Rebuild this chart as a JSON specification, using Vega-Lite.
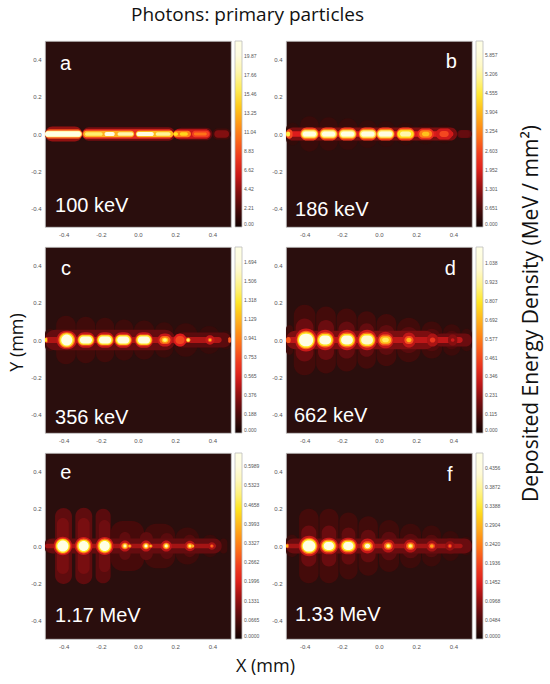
{
"$schema": "https://vega.github.io/schema/vega-lite/v6.json",
"padding": {"left": 7, "top": 5, "right": 2, "bottom": 2},
"background": "#ffffff",
"title": {"text": "Photons: primary particles", "anchor": "middle", "frame": "bounds", "offset": 16, "fontSize": 19, "fontWeight": "normal", "font": "Open Sans", "color": "#111111", "dx": -27},
"datasets": {
"cells": [
{"p":"a","x1":-0.5,"x2":-0.3,"y1":-0.04,"y2":0.04,"v":4.5},
{"p":"a","x1":-0.3,"x2":0.2,"y1":-0.036,"y2":0.036,"v":3.6},
{"p":"a","x1":0.2,"x2":0.4,"y1":-0.034,"y2":0.034,"v":2.8},
{"p":"a","x1":0.4,"x2":0.5,"y1":-0.03,"y2":0.03,"v":1.8},
{"p":"a","x1":-0.5,"x2":-0.3,"y1":-0.026,"y2":0.026,"v":9.5},
{"p":"a","x1":-0.3,"x2":0.19,"y1":-0.026,"y2":0.026,"v":7.5},
{"p":"a","x1":0.19,"x2":0.39,"y1":-0.026,"y2":0.026,"v":6},
{"p":"a","x1":0.41,"x2":0.49,"y1":-0.02,"y2":0.02,"v":4},
{"p":"a","x1":-0.5,"x2":-0.302,"y1":-0.018,"y2":0.018,"v":17},
{"p":"a","x1":-0.295,"x2":-0.02,"y1":-0.018,"y2":0.018,"v":13},
{"p":"a","x1":-0.012,"x2":0.19,"y1":-0.018,"y2":0.018,"v":13.5},
{"p":"a","x1":0.19,"x2":0.285,"y1":-0.018,"y2":0.018,"v":11},
{"p":"a","x1":0.29,"x2":0.385,"y1":-0.018,"y2":0.018,"v":8.5},
{"p":"a","x1":-0.5,"x2":-0.308,"y1":-0.014,"y2":0.014,"v":21.5},
{"p":"a","x1":-0.285,"x2":-0.19,"y1":-0.01,"y2":0.01,"v":16.5},
{"p":"a","x1":-0.18,"x2":-0.125,"y1":-0.011,"y2":0.011,"v":19.5},
{"p":"a","x1":-0.11,"x2":-0.025,"y1":-0.01,"y2":0.01,"v":18},
{"p":"a","x1":-0.008,"x2":0.085,"y1":-0.011,"y2":0.011,"v":20},
{"p":"a","x1":0.095,"x2":0.175,"y1":-0.01,"y2":0.01,"v":17.5},
{"p":"a","x1":0.19,"x2":0.215,"y1":-0.009,"y2":0.009,"v":15},
{"p":"a","x1":0.225,"x2":0.268,"y1":-0.009,"y2":0.009,"v":14.5},
{"p":"a","x1":0.3,"x2":0.37,"y1":-0.008,"y2":0.008,"v":10.5},

{"p":"b","x1":-0.5,"x2":-0.43,"y1":-0.06,"y2":0.06,"v":0.35},
{"p":"b","x1":-0.424,"x2":-0.324,"y1":-0.095,"y2":0.095,"v":0.42},
{"p":"b","x1":-0.321,"x2":-0.221,"y1":-0.09,"y2":0.09,"v":0.42},
{"p":"b","x1":-0.219,"x2":-0.115,"y1":-0.085,"y2":0.085,"v":0.4},
{"p":"b","x1":-0.112,"x2":-0.01,"y1":-0.075,"y2":0.075,"v":0.38},
{"p":"b","x1":-0.008,"x2":0.086,"y1":-0.07,"y2":0.07,"v":0.36},
{"p":"b","x1":0.09,"x2":0.196,"y1":-0.06,"y2":0.06,"v":0.34},
{"p":"b","x1":0.2,"x2":0.3,"y1":-0.055,"y2":0.055,"v":0.32},
{"p":"b","x1":0.305,"x2":0.4,"y1":-0.05,"y2":0.05,"v":0.32},
{"p":"b","x1":-0.5,"x2":0.42,"y1":-0.035,"y2":0.035,"v":1.1},
{"p":"b","x1":0.42,"x2":0.5,"y1":-0.022,"y2":0.022,"v":0.8},
{"p":"b","x1":-0.5,"x2":0.4,"y1":-0.015,"y2":0.015,"v":1.9},
{"p":"b","x1":-0.5,"x2":-0.465,"y1":-0.025,"y2":0.025,"v":2.6},
{"p":"b","x1":-0.424,"x2":-0.324,"y1":-0.035,"y2":0.035,"v":2.4},
{"p":"b","x1":-0.321,"x2":-0.221,"y1":-0.035,"y2":0.035,"v":2.4},
{"p":"b","x1":-0.219,"x2":-0.119,"y1":-0.035,"y2":0.035,"v":2.4},
{"p":"b","x1":-0.11,"x2":-0.01,"y1":-0.035,"y2":0.035,"v":2.4},
{"p":"b","x1":-0.015,"x2":0.085,"y1":-0.035,"y2":0.035,"v":2.4},
{"p":"b","x1":0.093,"x2":0.193,"y1":-0.035,"y2":0.035,"v":2.4},
{"p":"b","x1":0.206,"x2":0.296,"y1":-0.03,"y2":0.03,"v":2.2},
{"p":"b","x1":0.305,"x2":0.395,"y1":-0.03,"y2":0.03,"v":1.8},
{"p":"b","x1":0.428,"x2":0.488,"y1":-0.02,"y2":0.02,"v":0.9},
{"p":"b","x1":-0.421,"x2":-0.327,"y1":-0.026,"y2":0.026,"v":3.5},
{"p":"b","x1":-0.318,"x2":-0.224,"y1":-0.026,"y2":0.026,"v":3.5},
{"p":"b","x1":-0.216,"x2":-0.122,"y1":-0.026,"y2":0.026,"v":3.5},
{"p":"b","x1":-0.107,"x2":-0.013,"y1":-0.026,"y2":0.026,"v":3.5},
{"p":"b","x1":-0.012,"x2":0.082,"y1":-0.026,"y2":0.026,"v":3.5},
{"p":"b","x1":0.096,"x2":0.19,"y1":-0.026,"y2":0.026,"v":3.5},
{"p":"b","x1":0.216,"x2":0.286,"y1":-0.02,"y2":0.02,"v":3.2},
{"p":"b","x1":0.325,"x2":0.375,"y1":-0.016,"y2":0.016,"v":2.6},
{"p":"b","x1":-0.417,"x2":-0.331,"y1":-0.02,"y2":0.02,"v":4.8},
{"p":"b","x1":-0.314,"x2":-0.228,"y1":-0.02,"y2":0.02,"v":4.8},
{"p":"b","x1":-0.212,"x2":-0.126,"y1":-0.02,"y2":0.02,"v":4.8},
{"p":"b","x1":-0.103,"x2":-0.017,"y1":-0.02,"y2":0.02,"v":4.8},
{"p":"b","x1":-0.008,"x2":0.078,"y1":-0.02,"y2":0.02,"v":4.8},
{"p":"b","x1":0.1,"x2":0.186,"y1":-0.02,"y2":0.02,"v":4.4},
{"p":"b","x1":0.231,"x2":0.271,"y1":-0.012,"y2":0.012,"v":4},
{"p":"b","x1":-0.5,"x2":-0.478,"y1":-0.014,"y2":0.014,"v":4.6},
{"p":"b","x1":-0.41,"x2":-0.338,"y1":-0.014,"y2":0.014,"v":6.3},
{"p":"b","x1":-0.307,"x2":-0.235,"y1":-0.014,"y2":0.014,"v":6.1},
{"p":"b","x1":-0.205,"x2":-0.133,"y1":-0.014,"y2":0.014,"v":6.3},
{"p":"b","x1":-0.096,"x2":-0.024,"y1":-0.014,"y2":0.014,"v":6},
{"p":"b","x1":-0.001,"x2":0.071,"y1":-0.014,"y2":0.014,"v":5.8},
{"p":"b","x1":0.113,"x2":0.173,"y1":-0.014,"y2":0.014,"v":5.3},

{"p":"c","x1":-0.5,"x2":-0.445,"y1":-0.06,"y2":0.06,"v":0.13},
{"p":"c","x1":-0.44,"x2":-0.335,"y1":-0.13,"y2":0.13,"v":0.15},
{"p":"c","x1":-0.332,"x2":-0.23,"y1":-0.125,"y2":0.125,"v":0.15},
{"p":"c","x1":-0.227,"x2":-0.128,"y1":-0.12,"y2":0.12,"v":0.15},
{"p":"c","x1":-0.125,"x2":-0.025,"y1":-0.11,"y2":0.11,"v":0.14},
{"p":"c","x1":-0.022,"x2":0.088,"y1":-0.105,"y2":0.105,"v":0.14},
{"p":"c","x1":0.091,"x2":0.19,"y1":-0.095,"y2":0.095,"v":0.13},
{"p":"c","x1":0.193,"x2":0.32,"y1":-0.09,"y2":0.09,"v":0.13},
{"p":"c","x1":0.325,"x2":0.44,"y1":-0.075,"y2":0.075,"v":0.12},
{"p":"c","x1":0.445,"x2":0.5,"y1":-0.05,"y2":0.05,"v":0.11},
{"p":"c","x1":-0.5,"x2":0.2,"y1":-0.055,"y2":0.055,"v":0.26},
{"p":"c","x1":0.2,"x2":0.5,"y1":-0.04,"y2":0.04,"v":0.23},
{"p":"c","x1":-0.5,"x2":0.45,"y1":-0.016,"y2":0.016,"v":0.45},
{"p":"c","x1":-0.438,"x2":-0.328,"y1":-0.05,"y2":0.05,"v":0.5},
{"p":"c","x1":-0.33,"x2":-0.23,"y1":-0.042,"y2":0.042,"v":0.5},
{"p":"c","x1":-0.227,"x2":-0.127,"y1":-0.042,"y2":0.042,"v":0.5},
{"p":"c","x1":-0.129,"x2":-0.029,"y1":-0.042,"y2":0.042,"v":0.5},
{"p":"c","x1":-0.018,"x2":0.082,"y1":-0.042,"y2":0.042,"v":0.5},
{"p":"c","x1":0.105,"x2":0.185,"y1":-0.035,"y2":0.035,"v":0.5},
{"p":"c","x1":0.191,"x2":0.261,"y1":-0.035,"y2":0.035,"v":0.55},
{"p":"c","x1":0.362,"x2":0.412,"y1":-0.025,"y2":0.025,"v":0.5},
{"p":"c","x1":-0.5,"x2":-0.485,"y1":-0.015,"y2":0.015,"v":0.8},
{"p":"c","x1":0.485,"x2":0.5,"y1":-0.015,"y2":0.015,"v":0.8},
{"p":"c","x1":-0.428,"x2":-0.338,"y1":-0.042,"y2":0.042,"v":0.9},
{"p":"c","x1":-0.325,"x2":-0.235,"y1":-0.03,"y2":0.03,"v":0.9},
{"p":"c","x1":-0.222,"x2":-0.132,"y1":-0.03,"y2":0.03,"v":0.9},
{"p":"c","x1":-0.124,"x2":-0.034,"y1":-0.03,"y2":0.03,"v":0.9},
{"p":"c","x1":-0.013,"x2":0.077,"y1":-0.03,"y2":0.03,"v":0.9},
{"p":"c","x1":0.115,"x2":0.175,"y1":-0.022,"y2":0.022,"v":0.85},
{"p":"c","x1":0.201,"x2":0.251,"y1":-0.022,"y2":0.022,"v":0.75},
{"p":"c","x1":0.375,"x2":0.399,"y1":-0.012,"y2":0.012,"v":0.8},
{"p":"c","x1":-0.421,"x2":-0.345,"y1":-0.036,"y2":0.036,"v":1.3},
{"p":"c","x1":-0.32,"x2":-0.24,"y1":-0.025,"y2":0.025,"v":1.3},
{"p":"c","x1":-0.217,"x2":-0.137,"y1":-0.025,"y2":0.025,"v":1.3},
{"p":"c","x1":-0.119,"x2":-0.039,"y1":-0.025,"y2":0.025,"v":1.3},
{"p":"c","x1":-0.008,"x2":0.072,"y1":-0.025,"y2":0.025,"v":1.3},
{"p":"c","x1":0.127,"x2":0.163,"y1":-0.014,"y2":0.014,"v":1.2},
{"p":"c","x1":0.258,"x2":0.282,"y1":-0.012,"y2":0.012,"v":1.1},
{"p":"c","x1":-0.5,"x2":-0.49,"y1":-0.011,"y2":0.011,"v":1.3},
{"p":"c","x1":-0.413,"x2":-0.353,"y1":-0.03,"y2":0.03,"v":1.84},
{"p":"c","x1":-0.313,"x2":-0.247,"y1":-0.019,"y2":0.019,"v":1.75},
{"p":"c","x1":-0.21,"x2":-0.144,"y1":-0.019,"y2":0.019,"v":1.75},
{"p":"c","x1":-0.112,"x2":-0.046,"y1":-0.019,"y2":0.019,"v":1.7},
{"p":"c","x1":-0.001,"x2":0.065,"y1":-0.019,"y2":0.019,"v":1.68},
{"p":"c","x1":0.135,"x2":0.155,"y1":-0.009,"y2":0.009,"v":1.45},
{"p":"c","x1":0.263,"x2":0.277,"y1":-0.007,"y2":0.007,"v":1.4},
{"p":"c","x1":0.381,"x2":0.393,"y1":-0.006,"y2":0.006,"v":1.2},

{"p":"d","x1":-0.5,"x2":-0.462,"y1":-0.08,"y2":0.08,"v":0.09},
{"p":"d","x1":-0.458,"x2":-0.342,"y1":-0.19,"y2":0.19,"v":0.1},
{"p":"d","x1":-0.338,"x2":-0.232,"y1":-0.18,"y2":0.18,"v":0.1},
{"p":"d","x1":-0.228,"x2":-0.12,"y1":-0.17,"y2":0.17,"v":0.1},
{"p":"d","x1":-0.116,"x2":-0.017,"y1":-0.155,"y2":0.155,"v":0.1},
{"p":"d","x1":-0.013,"x2":0.093,"y1":-0.14,"y2":0.14,"v":0.1},
{"p":"d","x1":0.097,"x2":0.223,"y1":-0.12,"y2":0.12,"v":0.095},
{"p":"d","x1":0.227,"x2":0.34,"y1":-0.1,"y2":0.1,"v":0.09},
{"p":"d","x1":0.344,"x2":0.438,"y1":-0.085,"y2":0.085,"v":0.085},
{"p":"d","x1":0.442,"x2":0.5,"y1":-0.06,"y2":0.06,"v":0.08},
{"p":"d","x1":-0.448,"x2":-0.352,"y1":-0.115,"y2":0.115,"v":0.17},
{"p":"d","x1":-0.328,"x2":-0.242,"y1":-0.108,"y2":0.108,"v":0.17},
{"p":"d","x1":-0.218,"x2":-0.13,"y1":-0.1,"y2":0.1,"v":0.16},
{"p":"d","x1":-0.106,"x2":-0.027,"y1":-0.09,"y2":0.09,"v":0.16},
{"p":"d","x1":-0.003,"x2":0.083,"y1":-0.08,"y2":0.08,"v":0.15},
{"p":"d","x1":0.107,"x2":0.213,"y1":-0.07,"y2":0.07,"v":0.14},
{"p":"d","x1":0.237,"x2":0.33,"y1":-0.06,"y2":0.06,"v":0.13},
{"p":"d","x1":0.354,"x2":0.428,"y1":-0.05,"y2":0.05,"v":0.12},
{"p":"d","x1":-0.5,"x2":0.3,"y1":-0.05,"y2":0.05,"v":0.2},
{"p":"d","x1":0.3,"x2":0.5,"y1":-0.035,"y2":0.035,"v":0.17},
{"p":"d","x1":-0.5,"x2":0.45,"y1":-0.016,"y2":0.016,"v":0.3},
{"p":"d","x1":-0.45,"x2":-0.334,"y1":-0.062,"y2":0.062,"v":0.32},
{"p":"d","x1":-0.341,"x2":-0.237,"y1":-0.055,"y2":0.055,"v":0.32},
{"p":"d","x1":-0.224,"x2":-0.12,"y1":-0.055,"y2":0.055,"v":0.32},
{"p":"d","x1":-0.116,"x2":-0.012,"y1":-0.055,"y2":0.055,"v":0.32},
{"p":"d","x1":-0.01,"x2":0.08,"y1":-0.045,"y2":0.045,"v":0.3},
{"p":"d","x1":0.126,"x2":0.196,"y1":-0.04,"y2":0.04,"v":0.3},
{"p":"d","x1":0.258,"x2":0.318,"y1":-0.035,"y2":0.035,"v":0.27},
{"p":"d","x1":0.371,"x2":0.421,"y1":-0.03,"y2":0.03,"v":0.22},
{"p":"d","x1":-0.442,"x2":-0.342,"y1":-0.05,"y2":0.05,"v":0.55},
{"p":"d","x1":-0.334,"x2":-0.244,"y1":-0.04,"y2":0.04,"v":0.55},
{"p":"d","x1":-0.217,"x2":-0.127,"y1":-0.04,"y2":0.04,"v":0.55},
{"p":"d","x1":-0.109,"x2":-0.019,"y1":-0.04,"y2":0.04,"v":0.55},
{"p":"d","x1":-0.003,"x2":0.073,"y1":-0.03,"y2":0.03,"v":0.5},
{"p":"d","x1":0.136,"x2":0.186,"y1":-0.022,"y2":0.022,"v":0.48},
{"p":"d","x1":0.273,"x2":0.303,"y1":-0.014,"y2":0.014,"v":0.42},
{"p":"d","x1":0.386,"x2":0.406,"y1":-0.01,"y2":0.01,"v":0.32},
{"p":"d","x1":-0.5,"x2":-0.475,"y1":-0.016,"y2":0.016,"v":0.5},
{"p":"d","x1":-0.437,"x2":-0.347,"y1":-0.042,"y2":0.042,"v":0.8},
{"p":"d","x1":-0.329,"x2":-0.249,"y1":-0.032,"y2":0.032,"v":0.78},
{"p":"d","x1":-0.212,"x2":-0.132,"y1":-0.032,"y2":0.032,"v":0.78},
{"p":"d","x1":-0.104,"x2":-0.024,"y1":-0.032,"y2":0.032,"v":0.78},
{"p":"d","x1":0.005,"x2":0.065,"y1":-0.02,"y2":0.02,"v":0.72},
{"p":"d","x1":0.147,"x2":0.175,"y1":-0.012,"y2":0.012,"v":0.7},
{"p":"d","x1":-0.43,"x2":-0.354,"y1":-0.034,"y2":0.034,"v":1.14},
{"p":"d","x1":-0.321,"x2":-0.257,"y1":-0.024,"y2":0.024,"v":1.08},
{"p":"d","x1":-0.204,"x2":-0.14,"y1":-0.024,"y2":0.024,"v":1.05},
{"p":"d","x1":-0.096,"x2":-0.032,"y1":-0.024,"y2":0.024,"v":1},
{"p":"d","x1":0.017,"x2":0.053,"y1":-0.012,"y2":0.012,"v":0.85},

{"p":"e","x1":-0.5,"x2":-0.45,"y1":-0.04,"y2":0.04,"v":0.05},
{"p":"e","x1":-0.446,"x2":-0.355,"y1":-0.204,"y2":0.204,"v":0.085},
{"p":"e","x1":-0.337,"x2":-0.246,"y1":-0.205,"y2":0.205,"v":0.085},
{"p":"e","x1":-0.228,"x2":-0.147,"y1":-0.2,"y2":0.2,"v":0.08},
{"p":"e","x1":-0.147,"x2":0.033,"y1":-0.135,"y2":0.135,"v":0.06},
{"p":"e","x1":0.033,"x2":0.2,"y1":-0.12,"y2":0.12,"v":0.055},
{"p":"e","x1":0.2,"x2":0.33,"y1":-0.1,"y2":0.1,"v":0.05},
{"p":"e","x1":0.345,"x2":0.43,"y1":-0.06,"y2":0.06,"v":0.045},
{"p":"e","x1":0.44,"x2":0.48,"y1":-0.04,"y2":0.04,"v":0.05},
{"p":"e","x1":-0.436,"x2":-0.372,"y1":-0.15,"y2":0.15,"v":0.11},
{"p":"e","x1":-0.324,"x2":-0.26,"y1":-0.15,"y2":0.15,"v":0.11},
{"p":"e","x1":-0.21,"x2":-0.15,"y1":-0.14,"y2":0.14,"v":0.1},
{"p":"e","x1":-0.1,"x2":-0.04,"y1":-0.075,"y2":0.075,"v":0.085},
{"p":"e","x1":0.01,"x2":0.08,"y1":-0.075,"y2":0.075,"v":0.085},
{"p":"e","x1":0.12,"x2":0.19,"y1":-0.07,"y2":0.07,"v":0.08},
{"p":"e","x1":0.245,"x2":0.31,"y1":-0.06,"y2":0.06,"v":0.075},
{"p":"e","x1":-0.5,"x2":0.45,"y1":-0.04,"y2":0.04,"v":0.09},
{"p":"e","x1":-0.5,"x2":0.42,"y1":-0.012,"y2":0.012,"v":0.15},
{"p":"e","x1":-0.454,"x2":-0.354,"y1":-0.05,"y2":0.05,"v":0.18},
{"p":"e","x1":-0.34,"x2":-0.244,"y1":-0.048,"y2":0.048,"v":0.18},
{"p":"e","x1":-0.227,"x2":-0.131,"y1":-0.048,"y2":0.048,"v":0.18},
{"p":"e","x1":-0.1,"x2":-0.04,"y1":-0.03,"y2":0.03,"v":0.17},
{"p":"e","x1":0.013,"x2":0.073,"y1":-0.03,"y2":0.03,"v":0.17},
{"p":"e","x1":0.122,"x2":0.182,"y1":-0.03,"y2":0.03,"v":0.17},
{"p":"e","x1":0.251,"x2":0.307,"y1":-0.028,"y2":0.028,"v":0.16},
{"p":"e","x1":0.377,"x2":0.417,"y1":-0.02,"y2":0.02,"v":0.15},
{"p":"e","x1":-0.446,"x2":-0.362,"y1":-0.042,"y2":0.042,"v":0.3},
{"p":"e","x1":-0.332,"x2":-0.252,"y1":-0.04,"y2":0.04,"v":0.3},
{"p":"e","x1":-0.219,"x2":-0.139,"y1":-0.04,"y2":0.04,"v":0.3},
{"p":"e","x1":-0.09,"x2":-0.05,"y1":-0.018,"y2":0.018,"v":0.3},
{"p":"e","x1":-0.055,"x2":-0.035,"y1":-0.01,"y2":0.01,"v":0.3},
{"p":"e","x1":0.023,"x2":0.063,"y1":-0.018,"y2":0.018,"v":0.3},
{"p":"e","x1":0.058,"x2":0.078,"y1":-0.01,"y2":0.01,"v":0.3},
{"p":"e","x1":0.132,"x2":0.172,"y1":-0.018,"y2":0.018,"v":0.3},
{"p":"e","x1":0.261,"x2":0.297,"y1":-0.016,"y2":0.016,"v":0.28},
{"p":"e","x1":0.387,"x2":0.407,"y1":-0.01,"y2":0.01,"v":0.25},
{"p":"e","x1":-0.441,"x2":-0.367,"y1":-0.037,"y2":0.037,"v":0.45},
{"p":"e","x1":-0.326,"x2":-0.258,"y1":-0.034,"y2":0.034,"v":0.45},
{"p":"e","x1":-0.213,"x2":-0.145,"y1":-0.034,"y2":0.034,"v":0.45},
{"p":"e","x1":-0.083,"x2":-0.057,"y1":-0.013,"y2":0.013,"v":0.42},
{"p":"e","x1":-0.051,"x2":-0.039,"y1":-0.006,"y2":0.006,"v":0.4},
{"p":"e","x1":0.03,"x2":0.056,"y1":-0.013,"y2":0.013,"v":0.42},
{"p":"e","x1":0.062,"x2":0.074,"y1":-0.006,"y2":0.006,"v":0.4},
{"p":"e","x1":0.139,"x2":0.165,"y1":-0.013,"y2":0.013,"v":0.42},
{"p":"e","x1":0.268,"x2":0.29,"y1":-0.011,"y2":0.011,"v":0.4},
{"p":"e","x1":0.288,"x2":0.302,"y1":-0.008,"y2":0.008,"v":0.38},
{"p":"e","x1":0.392,"x2":0.402,"y1":-0.005,"y2":0.005,"v":0.32},
{"p":"e","x1":-0.434,"x2":-0.374,"y1":-0.03,"y2":0.03,"v":0.64},
{"p":"e","x1":-0.319,"x2":-0.265,"y1":-0.027,"y2":0.027,"v":0.63},
{"p":"e","x1":-0.206,"x2":-0.152,"y1":-0.027,"y2":0.027,"v":0.63},
{"p":"e","x1":-0.078,"x2":-0.062,"y1":-0.008,"y2":0.008,"v":0.55},
{"p":"e","x1":0.035,"x2":0.051,"y1":-0.008,"y2":0.008,"v":0.58},
{"p":"e","x1":0.144,"x2":0.16,"y1":-0.008,"y2":0.008,"v":0.55},
{"p":"e","x1":0.273,"x2":0.285,"y1":-0.006,"y2":0.006,"v":0.5},

{"p":"f","x1":-0.5,"x2":-0.435,"y1":-0.06,"y2":0.06,"v":0.035},
{"p":"f","x1":-0.43,"x2":-0.325,"y1":-0.2,"y2":0.2,"v":0.042},
{"p":"f","x1":-0.32,"x2":-0.218,"y1":-0.2,"y2":0.2,"v":0.042},
{"p":"f","x1":-0.213,"x2":-0.115,"y1":-0.18,"y2":0.18,"v":0.04},
{"p":"f","x1":-0.11,"x2":-0.006,"y1":-0.16,"y2":0.16,"v":0.04},
{"p":"f","x1":0,"x2":0.108,"y1":-0.14,"y2":0.14,"v":0.038},
{"p":"f","x1":0.113,"x2":0.226,"y1":-0.12,"y2":0.12,"v":0.036},
{"p":"f","x1":0.231,"x2":0.333,"y1":-0.11,"y2":0.11,"v":0.035},
{"p":"f","x1":0.338,"x2":0.43,"y1":-0.08,"y2":0.08,"v":0.033},
{"p":"f","x1":0.435,"x2":0.5,"y1":-0.05,"y2":0.05,"v":0.03},
{"p":"f","x1":-0.418,"x2":-0.337,"y1":-0.11,"y2":0.11,"v":0.07},
{"p":"f","x1":-0.308,"x2":-0.23,"y1":-0.11,"y2":0.11,"v":0.07},
{"p":"f","x1":-0.201,"x2":-0.127,"y1":-0.1,"y2":0.1,"v":0.065},
{"p":"f","x1":-0.098,"x2":-0.018,"y1":-0.088,"y2":0.088,"v":0.065},
{"p":"f","x1":0.012,"x2":0.096,"y1":-0.077,"y2":0.077,"v":0.06},
{"p":"f","x1":0.125,"x2":0.214,"y1":-0.066,"y2":0.066,"v":0.058},
{"p":"f","x1":0.243,"x2":0.321,"y1":-0.06,"y2":0.06,"v":0.055},
{"p":"f","x1":0.35,"x2":0.418,"y1":-0.045,"y2":0.045,"v":0.05},
{"p":"f","x1":-0.5,"x2":0.5,"y1":-0.04,"y2":0.04,"v":0.07},
{"p":"f","x1":-0.5,"x2":0.45,"y1":-0.012,"y2":0.012,"v":0.11},
{"p":"f","x1":-0.431,"x2":-0.321,"y1":-0.055,"y2":0.055,"v":0.13},
{"p":"f","x1":-0.32,"x2":-0.22,"y1":-0.045,"y2":0.045,"v":0.13},
{"p":"f","x1":-0.215,"x2":-0.115,"y1":-0.045,"y2":0.045,"v":0.13},
{"p":"f","x1":-0.102,"x2":-0.022,"y1":-0.04,"y2":0.04,"v":0.13},
{"p":"f","x1":0.015,"x2":0.085,"y1":-0.035,"y2":0.035,"v":0.12},
{"p":"f","x1":0.134,"x2":0.204,"y1":-0.035,"y2":0.035,"v":0.12},
{"p":"f","x1":0.254,"x2":0.314,"y1":-0.03,"y2":0.03,"v":0.11},
{"p":"f","x1":0.356,"x2":0.406,"y1":-0.025,"y2":0.025,"v":0.1},
{"p":"f","x1":-0.422,"x2":-0.33,"y1":-0.045,"y2":0.045,"v":0.22},
{"p":"f","x1":-0.312,"x2":-0.228,"y1":-0.035,"y2":0.035,"v":0.22},
{"p":"f","x1":-0.207,"x2":-0.123,"y1":-0.035,"y2":0.035,"v":0.22},
{"p":"f","x1":-0.092,"x2":-0.032,"y1":-0.026,"y2":0.026,"v":0.21},
{"p":"f","x1":0.026,"x2":0.074,"y1":-0.02,"y2":0.02,"v":0.2},
{"p":"f","x1":0.145,"x2":0.193,"y1":-0.02,"y2":0.02,"v":0.2},
{"p":"f","x1":0.266,"x2":0.302,"y1":-0.015,"y2":0.015,"v":0.18},
{"p":"f","x1":0.369,"x2":0.393,"y1":-0.012,"y2":0.012,"v":0.15},
{"p":"f","x1":-0.5,"x2":-0.485,"y1":-0.012,"y2":0.012,"v":0.22},
{"p":"f","x1":-0.416,"x2":-0.336,"y1":-0.037,"y2":0.037,"v":0.33},
{"p":"f","x1":-0.306,"x2":-0.234,"y1":-0.028,"y2":0.028,"v":0.33},
{"p":"f","x1":-0.201,"x2":-0.129,"y1":-0.028,"y2":0.028,"v":0.33},
{"p":"f","x1":-0.084,"x2":-0.04,"y1":-0.018,"y2":0.018,"v":0.31},
{"p":"f","x1":0.035,"x2":0.065,"y1":-0.013,"y2":0.013,"v":0.3},
{"p":"f","x1":0.154,"x2":0.184,"y1":-0.013,"y2":0.013,"v":0.3},
{"p":"f","x1":0.274,"x2":0.294,"y1":-0.01,"y2":0.01,"v":0.27},
{"p":"f","x1":0.375,"x2":0.387,"y1":-0.007,"y2":0.007,"v":0.22},
{"p":"f","x1":-0.5,"x2":-0.49,"y1":-0.008,"y2":0.008,"v":0.3},
{"p":"f","x1":-0.41,"x2":-0.342,"y1":-0.03,"y2":0.03,"v":0.47},
{"p":"f","x1":-0.298,"x2":-0.242,"y1":-0.021,"y2":0.021,"v":0.46},
{"p":"f","x1":-0.193,"x2":-0.137,"y1":-0.021,"y2":0.021,"v":0.45},
{"p":"f","x1":-0.076,"x2":-0.048,"y1":-0.012,"y2":0.012,"v":0.42},
{"p":"f","x1":0.042,"x2":0.058,"y1":-0.008,"y2":0.008,"v":0.38},
{"p":"f","x1":0.161,"x2":0.177,"y1":-0.008,"y2":0.008,"v":0.38}
],
"labels": [
{"p":"a","t":"a","x":-0.419,"y":0.345},
{"p":"a","t":"100 keV","x":-0.446,"y":-0.42},
{"p":"b","t":"b","x":0.359,"y":0.356},
{"p":"b","t":"186 keV","x":-0.451,"y":-0.441},
{"p":"c","t":"c","x":-0.414,"y":0.35},
{"p":"c","t":"356 keV","x":-0.446,"y":-0.451},
{"p":"d","t":"d","x":0.354,"y":0.347},
{"p":"d","t":"662 keV","x":-0.457,"y":-0.442},
{"p":"e","t":"e","x":-0.418,"y":0.361},
{"p":"e","t":"1.17 MeV","x":-0.446,"y":-0.408},
{"p":"f","t":"f","x":0.365,"y":0.349},
{"p":"f","t":"1.33 MeV","x":-0.452,"y":-0.404}
]
},
"columns": 2,
"spacing": {"row": 20, "column": 55},
"bounds": "flush",
"resolve": {"scale": {"color": "independent"}, "legend": {"color": "independent"}},
"concat": [
{"width":186,"height":186,
 "layer":[
  {"data":{"name":"cells"},"transform":[{"filter":"datum.p === 'a'"}],
   "mark":{"type":"rect","cornerRadius":12},
   "encoding":{
    "x":{"field":"x1","type":"quantitative","title":null,"scale":{"domain":[-0.5,0.5],"nice":false,"zero":false},"axis":{"values":[-0.4,-0.2,0,0.2,0.4],"labelExpr":"datum.value < 0 ? '-' + format(-datum.value, '.1f') : format(datum.value, '.1f')"}},
    "x2":{"field":"x2"},
    "y":{"field":"y1","type":"quantitative","title":null,"scale":{"domain":[-0.5,0.5],"nice":false,"zero":false},"axis":{"values":[-0.4,-0.2,0,0.2,0.4],"labelExpr":"datum.value < 0 ? '-' + format(-datum.value, '.1f') : format(datum.value, '.1f')"}},
    "y2":{"field":"y2"},
    "color":{"field":"v","type":"quantitative","scale":{"domain":[0,21.6],"nice":false,"clamp":true,"range":["#140202","#4a0a0a","#8c1010","#dc1c1c","#f24020","#ff7a18","#ffb020","#ffe620","#fff48e","#fffbe0","#ffffff"]},
     "legend":{"title":null,"orient":"none","legendX":190,"legendY":0,"direction":"vertical","values":[0,2.21,4.42,6.62,8.83,11.04,13.25,15.46,17.66,19.87],"format":".2f"}}
   }},
  {"data":{"name":"labels"},"transform":[{"filter":"datum.p === 'a'"}],
   "mark":{"type":"text","align":"left","baseline":"alphabetic","fontSize":20,"color":"#ffffff","font":"Liberation Sans"},
   "encoding":{"x":{"field":"x","type":"quantitative","title":null},"y":{"field":"y","type":"quantitative","title":null},"text":{"field":"t"}}}
 ]},
{"width":186,"height":186,
 "layer":[
  {"data":{"name":"cells"},"transform":[{"filter":"datum.p === 'b'"}],
   "mark":{"type":"rect","cornerRadius":12},
   "encoding":{
    "x":{"field":"x1","type":"quantitative","title":null,"scale":{"domain":[-0.5,0.5],"nice":false,"zero":false},"axis":{"values":[-0.4,-0.2,0,0.2,0.4],"labelExpr":"datum.value < 0 ? '-' + format(-datum.value, '.1f') : format(datum.value, '.1f')"}},
    "x2":{"field":"x2"},
    "y":{"field":"y1","type":"quantitative","title":null,"scale":{"domain":[-0.5,0.5],"nice":false,"zero":false},"axis":{"values":[-0.4,-0.2,0,0.2,0.4],"labelExpr":"datum.value < 0 ? '-' + format(-datum.value, '.1f') : format(datum.value, '.1f')"}},
    "y2":{"field":"y2"},
    "color":{"field":"v","type":"quantitative","scale":{"domain":[0,6.33],"nice":false,"clamp":true,"range":["#140202","#4a0a0a","#8c1010","#dc1c1c","#f24020","#ff7a18","#ffb020","#ffe620","#fff48e","#fffbe0","#ffffff"]},
     "legend":{"title":null,"orient":"none","legendX":190,"legendY":0,"direction":"vertical","values":[0,0.651,1.301,1.952,2.603,3.254,3.904,4.555,5.206,5.857],"format":".3f"}}
   }},
  {"data":{"name":"labels"},"transform":[{"filter":"datum.p === 'b'"}],
   "mark":{"type":"text","align":"left","baseline":"alphabetic","fontSize":20,"color":"#ffffff","font":"Liberation Sans"},
   "encoding":{"x":{"field":"x","type":"quantitative","title":null},"y":{"field":"y","type":"quantitative","title":null},"text":{"field":"t"}}}
 ]},
{"width":186,"height":186,
 "layer":[
  {"data":{"name":"cells"},"transform":[{"filter":"datum.p === 'c'"}],
   "mark":{"type":"rect","cornerRadius":12},
   "encoding":{
    "x":{"field":"x1","type":"quantitative","title":null,"scale":{"domain":[-0.5,0.5],"nice":false,"zero":false},"axis":{"values":[-0.4,-0.2,0,0.2,0.4],"labelExpr":"datum.value < 0 ? '-' + format(-datum.value, '.1f') : format(datum.value, '.1f')"}},
    "x2":{"field":"x2"},
    "y":{"field":"y1","type":"quantitative","title":"Y (mm)","scale":{"domain":[-0.5,0.5],"nice":false,"zero":false},"axis":{"titleX":-28,"titleY":95,"titleAngle":270,"titleAlign":"center","titleBaseline":"middle","values":[-0.4,-0.2,0,0.2,0.4],"labelExpr":"datum.value < 0 ? '-' + format(-datum.value, '.1f') : format(datum.value, '.1f')"}},
    "y2":{"field":"y2"},
    "color":{"field":"v","type":"quantitative","scale":{"domain":[0,1.844],"nice":false,"clamp":true,"range":["#140202","#4a0a0a","#8c1010","#dc1c1c","#f24020","#ff7a18","#ffb020","#ffe620","#fff48e","#fffbe0","#ffffff"]},
     "legend":{"title":null,"orient":"none","legendX":190,"legendY":0,"direction":"vertical","values":[0,0.188,0.376,0.565,0.753,0.941,1.129,1.318,1.506,1.694],"format":".3f"}}
   }},
  {"data":{"name":"labels"},"transform":[{"filter":"datum.p === 'c'"}],
   "mark":{"type":"text","align":"left","baseline":"alphabetic","fontSize":20,"color":"#ffffff","font":"Liberation Sans"},
   "encoding":{"x":{"field":"x","type":"quantitative","title":null},"y":{"field":"y","type":"quantitative","title":"Y (mm)"},"text":{"field":"t"}}}
 ]},
{"width":186,"height":186,
 "resolve":{"axis":{"y":"independent"}},
 "layer":[
  {"data":{"name":"cells"},"transform":[{"filter":"datum.p === 'd'"}],
   "mark":{"type":"rect","cornerRadius":12},
   "encoding":{
    "x":{"field":"x1","type":"quantitative","title":null,"scale":{"domain":[-0.5,0.5],"nice":false,"zero":false},"axis":{"values":[-0.4,-0.2,0,0.2,0.4],"labelExpr":"datum.value < 0 ? '-' + format(-datum.value, '.1f') : format(datum.value, '.1f')"}},
    "x2":{"field":"x2"},
    "y":{"field":"y1","type":"quantitative","title":null,"scale":{"domain":[-0.5,0.5],"nice":false,"zero":false},"axis":{"orient":"left","values":[-0.4,-0.2,0,0.2,0.4],"labelExpr":"datum.value < 0 ? '-' + format(-datum.value, '.1f') : format(datum.value, '.1f')"}},
    "y2":{"field":"y2"},
    "color":{"field":"v","type":"quantitative","scale":{"domain":[0,1.139],"nice":false,"clamp":true,"range":["#140202","#4a0a0a","#8c1010","#dc1c1c","#f24020","#ff7a18","#ffb020","#ffe620","#fff48e","#fffbe0","#ffffff"]},
     "legend":{"title":null,"orient":"none","legendX":190,"legendY":0,"direction":"vertical","values":[0,0.115,0.231,0.346,0.461,0.577,0.692,0.807,0.923,1.038],"format":".3f"}}
   }},
  {"data":{"name":"labels"},"transform":[{"filter":"datum.p === 'd'"}],
   "mark":{"type":"text","align":"left","baseline":"alphabetic","fontSize":20,"color":"#ffffff","font":"Liberation Sans"},
   "encoding":{"x":{"field":"x","type":"quantitative","title":null},"y":{"field":"y","type":"quantitative","title":"Deposited Energy Density (MeV / mm²)","axis":{"orient":"right","labels":false,"ticks":false,"domain":false,"grid":false,"titleX":59,"titleY":66,"titleAngle":270,"titleAlign":"center","titleBaseline":"middle","titleFontSize":21,"titleFont":"Open Sans"}},"text":{"field":"t"}}}
 ]},
{"width":186,"height":186,
 "layer":[
  {"data":{"name":"cells"},"transform":[{"filter":"datum.p === 'e'"}],
   "mark":{"type":"rect","cornerRadius":12},
   "encoding":{
    "x":{"field":"x1","type":"quantitative","title":"X (mm)","scale":{"domain":[-0.5,0.5],"nice":false,"zero":false},"axis":{"titleX":220,"titleY":27,"titleAlign":"center","titleBaseline":"middle","values":[-0.4,-0.2,0,0.2,0.4],"labelExpr":"datum.value < 0 ? '-' + format(-datum.value, '.1f') : format(datum.value, '.1f')"}},
    "x2":{"field":"x2"},
    "y":{"field":"y1","type":"quantitative","title":null,"scale":{"domain":[-0.5,0.5],"nice":false,"zero":false},"axis":{"values":[-0.4,-0.2,0,0.2,0.4],"labelExpr":"datum.value < 0 ? '-' + format(-datum.value, '.1f') : format(datum.value, '.1f')"}},
    "y2":{"field":"y2"},
    "color":{"field":"v","type":"quantitative","scale":{"domain":[0,0.6445],"nice":false,"clamp":true,"range":["#140202","#4a0a0a","#8c1010","#dc1c1c","#f24020","#ff7a18","#ffb020","#ffe620","#fff48e","#fffbe0","#ffffff"]},
     "legend":{"title":null,"orient":"none","legendX":190,"legendY":0,"direction":"vertical","values":[0,0.0665,0.1331,0.1996,0.2662,0.3327,0.3993,0.4658,0.5323,0.5989],"format":".4f"}}
   }},
  {"data":{"name":"labels"},"transform":[{"filter":"datum.p === 'e'"}],
   "mark":{"type":"text","align":"left","baseline":"alphabetic","fontSize":20,"color":"#ffffff","font":"Liberation Sans"},
   "encoding":{"x":{"field":"x","type":"quantitative","title":"X (mm)"},"y":{"field":"y","type":"quantitative","title":null},"text":{"field":"t"}}}
 ]},
{"width":186,"height":186,
 "layer":[
  {"data":{"name":"cells"},"transform":[{"filter":"datum.p === 'f'"}],
   "mark":{"type":"rect","cornerRadius":12},
   "encoding":{
    "x":{"field":"x1","type":"quantitative","title":null,"scale":{"domain":[-0.5,0.5],"nice":false,"zero":false},"axis":{"values":[-0.4,-0.2,0,0.2,0.4],"labelExpr":"datum.value < 0 ? '-' + format(-datum.value, '.1f') : format(datum.value, '.1f')"}},
    "x2":{"field":"x2"},
    "y":{"field":"y1","type":"quantitative","title":null,"scale":{"domain":[-0.5,0.5],"nice":false,"zero":false},"axis":{"values":[-0.4,-0.2,0,0.2,0.4],"labelExpr":"datum.value < 0 ? '-' + format(-datum.value, '.1f') : format(datum.value, '.1f')"}},
    "y2":{"field":"y2"},
    "color":{"field":"v","type":"quantitative","scale":{"domain":[0,0.4736],"nice":false,"clamp":true,"range":["#140202","#4a0a0a","#8c1010","#dc1c1c","#f24020","#ff7a18","#ffb020","#ffe620","#fff48e","#fffbe0","#ffffff"]},
     "legend":{"title":null,"orient":"none","legendX":190,"legendY":0,"direction":"vertical","values":[0,0.0484,0.0968,0.1452,0.1936,0.242,0.2904,0.3388,0.3872,0.4356],"format":".4f"}}
   }},
  {"data":{"name":"labels"},"transform":[{"filter":"datum.p === 'f'"}],
   "mark":{"type":"text","align":"left","baseline":"alphabetic","fontSize":20,"color":"#ffffff","font":"Liberation Sans"},
   "encoding":{"x":{"field":"x","type":"quantitative","title":null},"y":{"field":"y","type":"quantitative","title":null},"text":{"field":"t"}}}
 ]}
],
"config": {
 "font": "Liberation Sans",
 "view": {"fill": "#2a0e0d", "stroke": "#c8c8c8", "strokeWidth": 0.8},
 "axis": {"ticks": false, "domain": false, "grid": false, "labelFontSize": 6, "labelColor": "#555555", "labelPadding": 4, "labelFont": "Liberation Sans", "titleFont": "Open Sans", "titleFontSize": 18, "titleFontWeight": "normal", "titleColor": "#111111"},
 "legend": {"gradientLength": 186, "gradientThickness": 7, "labelFontSize": 5, "labelColor": "#555555", "labelOffset": 6, "gradientStrokeColor": "#bbbbbb", "gradientStrokeWidth": 0.8, "labelOverlap": false, "padding": 0, "labelBaseline": "middle", "labelFont": "Liberation Sans"}
}
}
